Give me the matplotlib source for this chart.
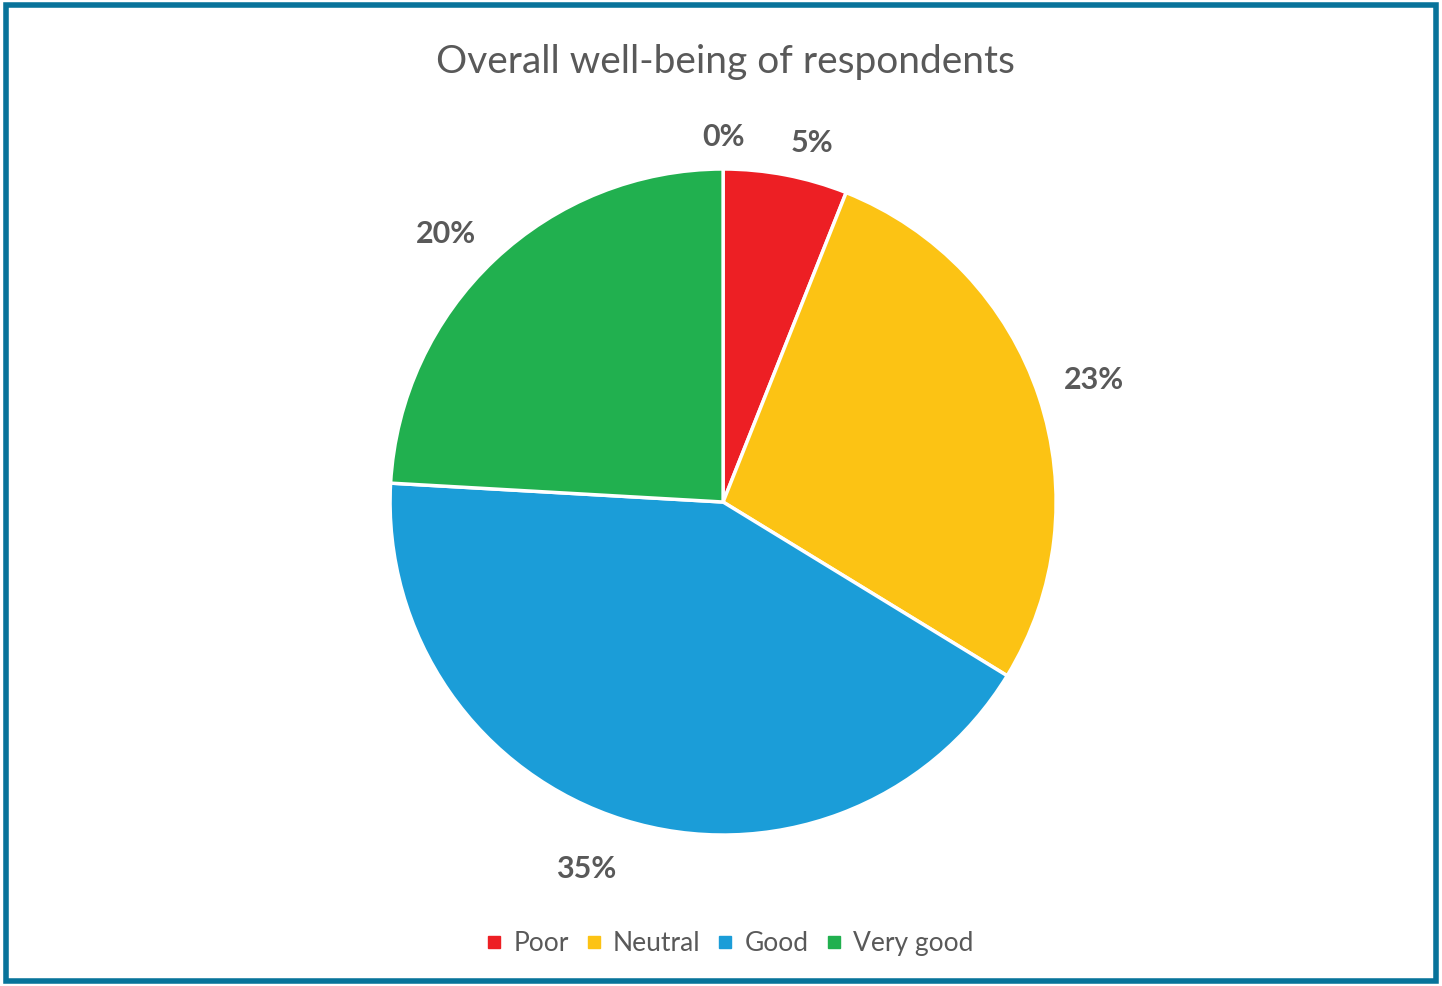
import numpy as np
import matplotlib.pyplot as plt
from matplotlib.lines import Line2D
from matplotlib.patches import Rectangle

plt.rcParams['font.family'] = ['Lato', 'DejaVu Sans']

# data (first category is empty and not shown in the legend)
categories = ["Very poor", "Poor", "Neutral", "Good", "Very good"]
values = [0, 5, 23, 35, 20]
pct_labels = ["0%", "5%", "23%", "35%", "20%"]
colors = ["#7F7F7F", "#ED1F24", "#FCC314", "#1B9DD8", "#21B04F"]

text_col = "#595959"

fig = plt.figure(figsize=(14.42, 9.86), dpi=100)

# pie area
ax = fig.add_axes([0.2705, 0.1531, 0.4619, 0.6755])
wedges, _ = ax.pie(values, colors=colors, startangle=90, counterclock=False,
                   wedgeprops=dict(edgecolor='white', linewidth=2.5))
ax.set_xlim(-1, 1)
ax.set_ylim(-1, 1)
ax.set_aspect('equal')
ax.axis('off')

# data labels outside the slices ("outside end" style)
for w, lab in zip(wedges, pct_labels):
    mid = np.deg2rad((w.theta1 + w.theta2) / 2)
    x = 1.08 * np.cos(mid)
    y = (1.07 if np.sin(mid) > 0 else 1.11) * np.sin(mid)
    if abs(np.cos(mid)) < 0.05:
        ha = 'center'
    else:
        ha = 'left' if x > 0 else 'right'
    va = 'baseline' if y > 0 else 'top'
    ax.text(x, y, lab, ha=ha, va=va, fontsize=22, fontweight='bold',
            color=text_col, clip_on=False)

fig.text(0.503, 0.937, "Overall well-being of respondents", ha='center', va='center',
         fontsize=28, color=text_col)

handles = [Line2D([], [], marker='s', linestyle='none', markersize=8,
                  markerfacecolor=c, markeredgecolor=c) for c in colors[1:]]
leg = fig.legend(handles, categories[1:], loc='center', bbox_to_anchor=(0.506, 0.043),
                 ncol=4, frameon=False, fontsize=19, handlelength=0.6,
                 handletextpad=0.42, columnspacing=0.65, labelcolor=text_col)

# outer border
fig.add_artist(Rectangle((0.004, 0.005), 0.992, 0.99, transform=fig.transFigure,
                         fill=False, edgecolor='#08739A', linewidth=4))

fig.savefig("out.png", dpi=100, facecolor='white')
